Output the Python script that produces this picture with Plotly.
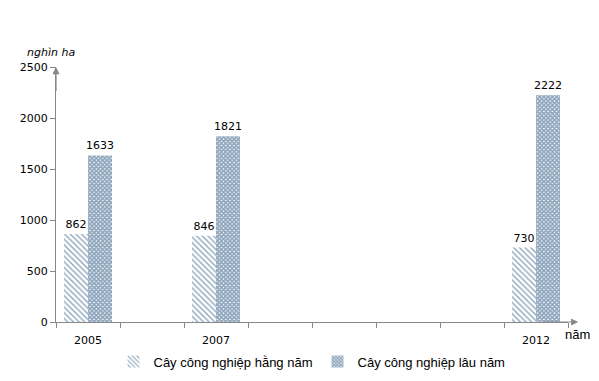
import plotly.graph_objects as go

years = ["2005", "2006", "2007", "2008", "2009", "2010", "2011", "2012"]
shown_years = ["2005", "2007", "2012"]
hang_nam = [862, None, 846, None, None, None, None, 730]
lau_nam = [1633, None, 1821, None, None, None, None, 2222]
series_names = ["Cây công nghiệp hằng năm", "Cây công nghiệp lâu năm"]
y_ticks = [0, 500, 1000, 1500, 2000, 2500]

fg = "#1F4E7C"
num_font = dict(family="DejaVu Sans", size=11, color="#000000")

fig = go.Figure()
fig.add_trace(go.Bar(
    x=years, y=hang_nam, name=series_names[0],
    marker=dict(color="white", line=dict(width=0),
                pattern=dict(shape="\\", size=4, solidity=0.35, fgcolor=fg, bgcolor="white")),
    text=[str(v) if v is not None else "" for v in hang_nam],
    textposition="outside", textfont=num_font, cliponaxis=False, constraintext="none",
))
fig.add_trace(go.Bar(
    x=years, y=lau_nam, name=series_names[1],
    marker=dict(color="white", line=dict(width=0),
                pattern=dict(shape="x", size=3, solidity=0.8, fgcolor=fg, bgcolor="white")),
    text=[str(v) if v is not None else "" for v in lau_nam],
    textposition="outside", textfont=num_font, cliponaxis=False, constraintext="none",
))

fig.update_layout(
    width=591, height=373,
    margin=dict(l=48, r=31, t=59, b=59, autoexpand=False),
    plot_bgcolor="white", paper_bgcolor="white",
    barmode="group", bargap=0.25, bargroupgap=0,
    font=dict(family="Liberation Sans", size=12, color="#000000"),
    showlegend=True,
    legend=dict(orientation="h", x=0.5, xanchor="center", y=-0.155, yanchor="middle",
                font=dict(family="Liberation Sans", size=13), itemwidth=30,
                traceorder="normal"),
    xaxis=dict(type="category", categoryorder="array", categoryarray=years,
               tickmode="array", tickvals=years,
               ticktext=[y if y in shown_years else "" for y in years],
               tickson="boundaries", ticks="outside", ticklen=5, tickcolor="#888888",
               ticklabelstandoff=8,
               showline=True, linecolor="#888888", linewidth=1,
               showgrid=False, zeroline=False, automargin=False,
               tickfont=dict(family="DejaVu Sans", size=11, color="#000000")),
    yaxis=dict(range=[0, 2500], tickvals=y_ticks, ticks="outside", ticklen=5,
               tickcolor="#888888", showline=True, linecolor="#888888", linewidth=1,
               showgrid=False, zeroline=False, automargin=False,
               tickfont=dict(family="DejaVu Sans", size=11, color="#000000")),
)

# axis arrows
fig.add_annotation(xref="x domain", yref="y domain", axref="x domain", ayref="y domain",
                   x=0, y=1.0, ax=0, ay=0.9, text="", showarrow=True,
                   arrowhead=2, arrowsize=1.2, arrowwidth=1.2, arrowcolor="#888888")
fig.add_annotation(xref="x domain", yref="y domain", axref="x domain", ayref="y domain",
                   x=1.02, y=0, ax=0.95, ay=0, text="", showarrow=True,
                   arrowhead=2, arrowsize=1.2, arrowwidth=1.2, arrowcolor="#888888")
fig.add_annotation(xref="x domain", yref="y domain", x=-0.01, y=1.058,
                   text="<i>nghìn ha</i>", showarrow=False, xanchor="center", yanchor="middle",
                   font=dict(family="DejaVu Sans", size=11))
fig.add_annotation(xref="x domain", yref="y domain", x=0.99, y=-0.05,
                   text="năm", showarrow=False, xanchor="left", yanchor="middle",
                   font=dict(family="Liberation Sans", size=13))

fig.write_html("out.html")
